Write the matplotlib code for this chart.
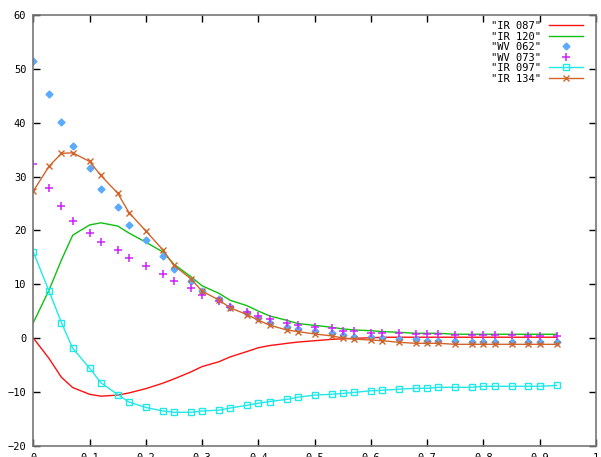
import numpy as np
import matplotlib
matplotlib.use("Agg")
import matplotlib.pyplot as plt

x = [0, 0.028, 0.05, 0.07, 0.1, 0.12, 0.15, 0.17, 0.2, 0.23,
     0.25, 0.28, 0.3, 0.33, 0.35, 0.38, 0.4, 0.42, 0.45, 0.47,
     0.5, 0.53, 0.55, 0.57, 0.6, 0.62, 0.65, 0.68, 0.7, 0.72,
     0.75, 0.78, 0.8, 0.82, 0.85, 0.88, 0.9, 0.93]

ir087 = [0.0, -3.8, -7.3, -9.2, -10.45, -10.8, -10.6, -10.2, -9.4, -8.4,
         -7.6, -6.3, -5.3, -4.4, -3.5, -2.5, -1.8, -1.4, -1.0, -0.75,
         -0.5, -0.25, -0.15, -0.05, 0.05, 0.14, 0.15, 0.15, 0.15, 0.15,
         0.15, 0.15, 0.15, 0.15, 0.15, 0.15, 0.15, 0.15]

ir120 = [2.85, 8.9, 14.5, 19.1, 21.0, 21.4, 20.8, 19.5, 17.8, 16.0,
         13.7, 11.4, 9.7, 8.3, 7.0, 6.0, 5.0, 4.1, 3.3, 2.7,
         2.35, 2.0, 1.7, 1.5, 1.36, 1.2, 1.06, 0.88, 0.88, 0.88,
         0.7, 0.7, 0.7, 0.7, 0.7, 0.7, 0.7, 0.7]

wv062 = [51.5, 45.4, 40.2, 35.7, 31.5, 27.7, 24.3, 21.0, 18.2, 15.3,
         12.8, 10.5, 8.7, 7.3, 5.75, 4.6, 3.66, 2.85, 2.1, 1.6,
         1.25, 0.9, 0.5, 0.25, 0.13, -0.05, -0.24, -0.24, -0.5, -0.5,
         -0.5, -0.68, -0.68, -0.68, -0.68, -0.68, -0.68, -0.68]

wv073 = [32.4, 27.9, 24.5, 21.8, 19.6, 17.8, 16.4, 14.8, 13.3, 11.8,
         10.5, 9.2, 7.9, 6.8, 5.7, 4.8, 4.1, 3.5, 2.85, 2.5,
         2.1, 1.8, 1.36, 1.3, 1.0, 0.9, 0.88, 0.7, 0.7, 0.7,
         0.56, 0.56, 0.56, 0.56, 0.56, 0.37, 0.37, 0.37]

ir097 = [16.0, 8.7, 2.85, -1.9, -5.6, -8.3, -10.5, -11.9, -12.9, -13.55,
         -13.8, -13.8, -13.55, -13.4, -13.0, -12.5, -12.1, -11.8, -11.4, -11.0,
         -10.6, -10.45, -10.3, -10.1, -9.8, -9.7, -9.5, -9.34, -9.34, -9.15,
         -9.15, -9.15, -8.97, -8.97, -8.97, -8.97, -8.97, -8.8]

ir134 = [27.3, 31.9, 34.3, 34.4, 32.8, 30.2, 26.9, 23.3, 19.9, 16.4,
         13.5, 11.0, 8.7, 7.06, 5.6, 4.35, 3.3, 2.4, 1.5, 1.2,
         0.75, 0.4, 0.0, -0.2, -0.37, -0.5, -0.8, -0.98, -0.98, -0.98,
         -1.17, -1.17, -1.17, -1.17, -1.17, -1.17, -1.17, -1.17]

xticks = [0, 0.1, 0.2, 0.3, 0.4, 0.5, 0.6, 0.7, 0.8, 0.9, 1]
xtick_labels = ['0', '0.1', '0.2', '0.3', '0.4', '0.5', '0.6', '0.7', '0.8', '0.9', '1']
yticks = [-20, -10, 0, 10, 20, 30, 40, 50, 60]

plt.rcParams['font.family'] = ['DejaVu Sans Mono']
fs = 7.5

fig = plt.figure(figsize=(6.01, 4.57), dpi=100)
ax = fig.add_axes([33.3 / 601, 11.3 / 457, (596 - 33.3) / 601, (445.7 - 15) / 457])

ax.plot(x, ir087, color='#ff1010', lw=1.0, label='"IR 087"')
ax.plot(x, ir120, color='#10c010', lw=1.0, label='"IR 120"')
ax.plot(x, wv062, ls='none', marker='D', ms=3.5, color='#5aaaff', label='"WV 062"')
ax.plot(x, wv073, ls='none', marker='+', ms=6, mew=1.1, color='#cc22ff', label='"WV 073"')
ax.plot(x, ir097, color='#22e8e8', lw=1.0, marker='s', ms=4.5, mfc='none', mew=1.0, label='"IR 097"')
ax.plot(x, ir134, color='#d2642a', lw=1.0, marker='x', ms=5, mew=1.0, label='"IR 134"')

ax.set_xlim(0, 1)
ax.set_ylim(-20, 60)
ax.set_xticks(xticks)
ax.set_xticklabels(xtick_labels)
ax.set_yticks(yticks)
ax.tick_params(direction='in', length=5, width=1, top=True, right=True,
               labelsize=fs, pad=5, colors='black')
for sp in ax.spines.values():
    sp.set_color('#777777')
    sp.set_linewidth(1.2)

ax.legend(loc='upper right', bbox_to_anchor=(582.7 / 601, (457 - 21) / 457),
          bbox_transform=fig.transFigure, frameon=False, markerfirst=False,
          fontsize=fs, handlelength=3.2, handletextpad=0.8, labelspacing=0.05,
          borderpad=0, borderaxespad=0)

fig.savefig('out.png', dpi=100)
